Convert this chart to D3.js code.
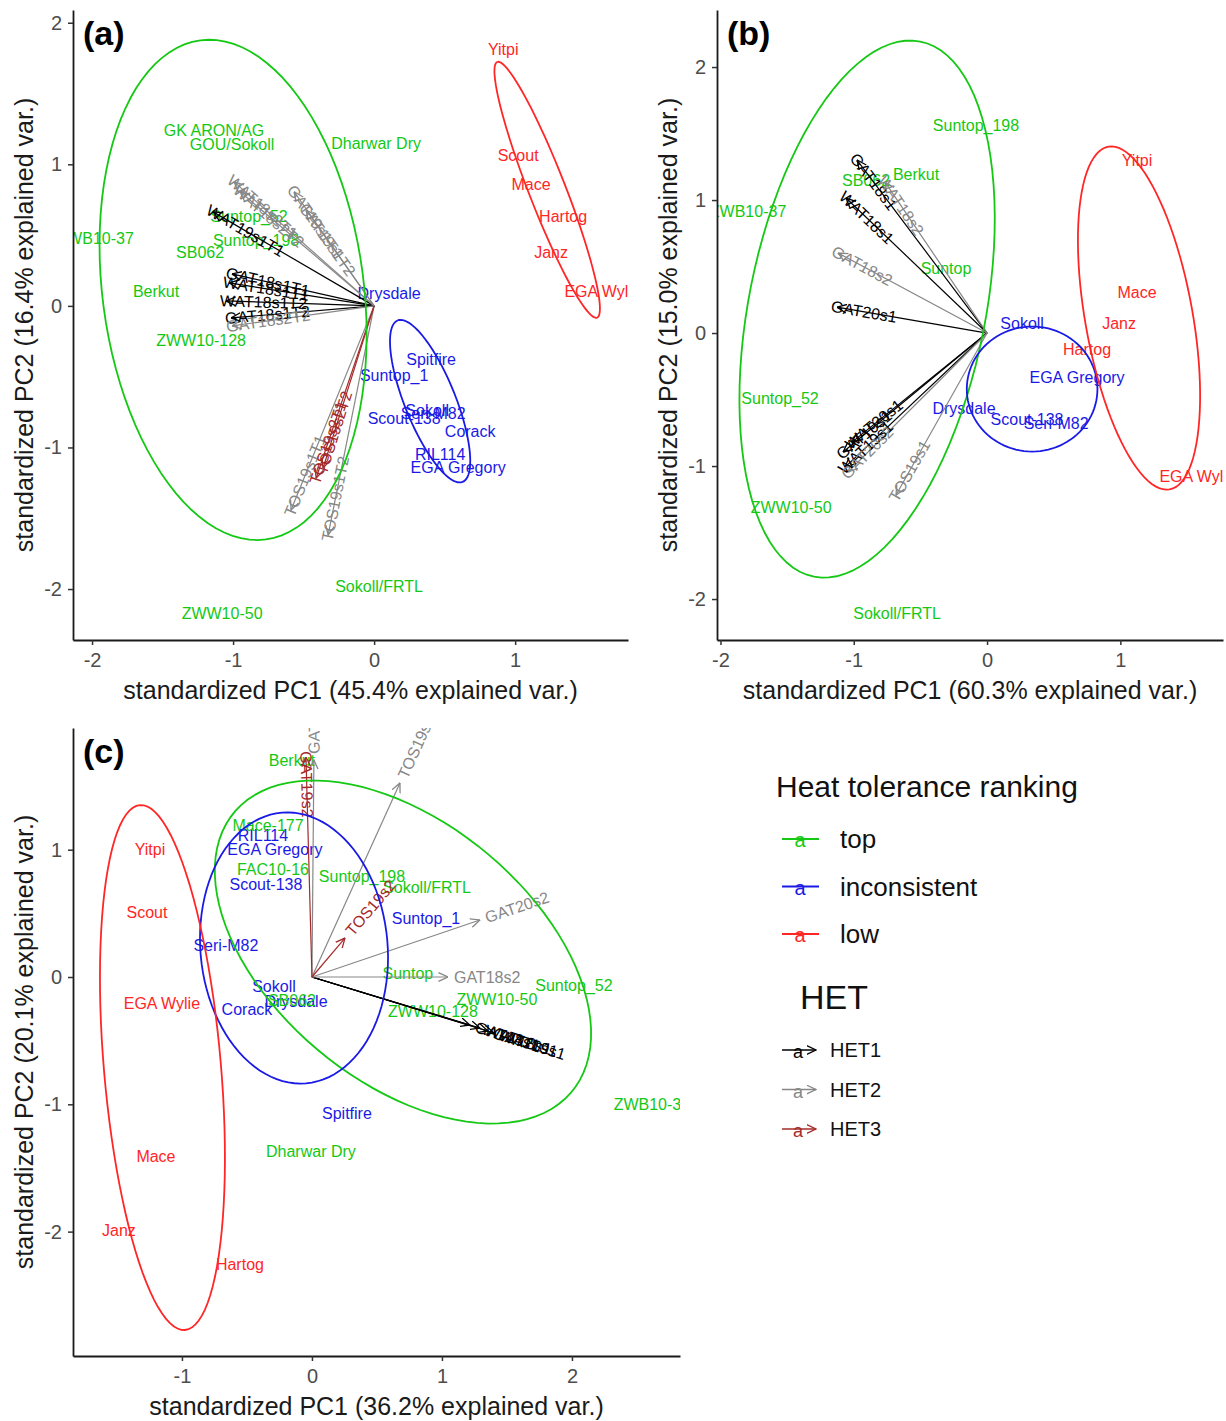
<!DOCTYPE html>
<html>
<head>
<meta charset="utf-8">
<script src="https://cdn.jsdelivr.net/npm/d3@7"></script>
<style>
  body { margin: 0; background: #fff; }
  text { font-family: "Liberation Sans", Arial, sans-serif; }
</style>
</head>
<body>
<svg id="fig" width="1226" height="1421"></svg>
<script>
// ---------------- data ----------------
// Genotype scores: [name, heat tolerance ranking, PC1, PC2]
const scoresA = [
  ["GK ARON/AG", "top", -1.135, 1.237],
  ["GOU/Sokoll", "top", -1.007, 1.138],
  ["Dharwar Dry", "top", 0.014, 1.145],
  ["ZWB10-37", "top", -1.975, 0.473],
  ["Suntop_52", "top", -0.887, 0.629],
  ["Suntop_198", "top", -0.837, 0.459],
  ["SB062", "top", -1.234, 0.375],
  ["Berkut", "top", -1.546, 0.099],
  ["ZWW10-128", "top", -1.227, -0.247],
  ["Sokoll/FRTL", "top", 0.035, -1.979],
  ["ZWW10-50", "top", -1.078, -2.17],
  ["Drysdale", "inconsistent", 0.106, 0.085],
  ["Spitfire", "inconsistent", 0.404, -0.382],
  ["Suntop_1", "inconsistent", 0.142, -0.495],
  ["Sokoll", "inconsistent", 0.376, -0.742],
  ["Scout-138", "inconsistent", 0.213, -0.792],
  ["Seri-M82", "inconsistent", 0.418, -0.763],
  ["Corack", "inconsistent", 0.681, -0.890],
  ["RIL114", "inconsistent", 0.468, -1.053],
  ["EGA Gregory", "inconsistent", 0.596, -1.145],
  ["Yitpi", "low", 0.915, 1.809],
  ["Scout", "low", 1.021, 1.060],
  ["Mace", "low", 1.113, 0.855],
  ["Hartog", "low", 1.340, 0.629],
  ["Janz", "low", 1.255, 0.375],
  ["EGA Wylie", "low", 1.62, 0.099]
];
// Trait loadings: [variable, HET group, PC1, PC2]
const loadingsA = [
  ["WAT19s1T1", "HET1", -1.142, 0.664],
  ["GAT18s1T1", "HET1", -1.007, 0.226],
  ["WAT18s1T1", "HET1", -1.028, 0.163],
  ["WAT18s1T2", "HET1", -1.050, 0.035],
  ["GAT18s1T2", "HET1", -1.014, -0.085],
  ["WAT18s2T1", "HET2", -0.993, 0.876],
  ["WAT18s2T2", "HET2", -0.950, 0.806],
  ["GAT19s1T1", "HET2", -0.567, 0.806],
  ["GAT19s1T2", "HET2", -0.482, 0.678],
  ["GAT18s2T2", "HET2", -1.007, -0.141],
  ["TOS19s1T1", "HET2", -0.589, -1.442],
  ["TOS19s1T2", "HET2", -0.326, -1.618],
  ["TOS19s2T1", "HET3", -0.411, -1.216],
  ["TOS19s2T2", "HET3", -0.362, -1.145]
];
// Group ellipses: [ranking, centre PC1, centre PC2, semi-major, semi-minor, angle (deg)]
const ellipsesA = [
  ["top", -1.0, 0.113, 1.778, 0.926, 97.5],
  ["inconsistent", 0.397, -0.673, 0.615, 0.18, 112],
  ["low", 1.227, 0.82, 0.97, 0.13, 111.4]
];
const varianceA = [45.4, 16.4];
const xTicksA = [-2, -1, 0, 1];
const yTicksA = [-2, -1, 0, 1, 2];

const scoresB = [
  ["Suntop_198", "top", -0.083, 1.564],
  ["Berkut", "top", -0.533, 1.195],
  ["SB062", "top", -0.908, 1.150],
  ["ZWB10-37", "top", -1.793, 0.917],
  ["Suntop", "top", -0.308, 0.489],
  ["Suntop_52", "top", -1.553, -0.489],
  ["ZWW10-50", "top", -1.470, -1.308],
  ["Sokoll/FRTL", "top", -0.675, -2.105],
  ["Sokoll", "inconsistent", 0.263, 0.075],
  ["EGA Gregory", "inconsistent", 0.675, -0.338],
  ["Drysdale", "inconsistent", -0.173, -0.564],
  ["Scout-138", "inconsistent", 0.300, -0.647],
  ["Seri-M82", "inconsistent", 0.518, -0.677],
  ["Yitpi", "low", 1.125, 1.301],
  ["Mace", "low", 1.125, 0.308],
  ["Janz", "low", 0.990, 0.075],
  ["Hartog", "low", 0.750, -0.120],
  ["EGA Wylie", "low", 1.579, -1.075]
];
const loadingsB = [
  ["GAT18s1", "HET1", -0.975, 1.301],
  ["WAT18s1", "HET1", -1.058, 1.015],
  ["GAT20s1", "HET1", -1.125, 0.195],
  ["WAT20s1", "HET1", -1.013, -0.820],
  ["GAT19s1", "HET1", -1.080, -0.895],
  ["WAT19s1", "HET1", -1.065, -1.008],
  ["WAT18s2", "HET2", -0.765, 1.135],
  ["GAT18s2", "HET2", -1.118, 0.602],
  ["GAT20s2", "HET2", -1.043, -1.045],
  ["TOS19s1", "HET2", -0.683, -1.218]
];
const ellipsesB = [
  ["top", -0.9, 0.18, 2.051, 0.888, 78.8],
  ["inconsistent", 0.338, -0.421, 0.49, 0.47, 0],
  ["low", 1.14, 0.113, 1.309, 0.403, 100.1]
];
const varianceB = [60.3, 15.0];
const xTicksB = [-2, -1, 0, 1];
const yTicksB = [-2, -1, 0, 1, 2];

const scoresC = [
  ["Yitpi", "low", -1.246, 1.005],
  ["Scout", "low", -1.269, 0.503],
  ["EGA Wylie", "low", -1.154, -0.212],
  ["Mace", "low", -1.2, -1.406],
  ["Janz", "low", -1.485, -1.995],
  ["Hartog", "low", -0.554, -2.255],
  ["RIL114", "inconsistent", -0.377, 1.108],
  ["EGA Gregory", "inconsistent", -0.285, 0.998],
  ["Scout-138", "inconsistent", -0.354, 0.723],
  ["Seri-M82", "inconsistent", -0.662, 0.251],
  ["Sokoll", "inconsistent", -0.292, -0.071],
  ["Corack", "inconsistent", -0.5, -0.259],
  ["Drysdale", "inconsistent", -0.123, -0.196],
  ["Suntop_1", "inconsistent", 0.877, 0.463],
  ["Spitfire", "inconsistent", 0.269, -1.076],
  ["Berkut", "top", -0.154, 1.697],
  ["Mace-177", "top", -0.338, 1.194],
  ["FAC10-16", "top", -0.3, 0.841],
  ["SB062", "top", -0.154, -0.181],
  ["Suntop_198", "top", 0.385, 0.786],
  ["Sokoll/FRTL", "top", 0.885, 0.707],
  ["Suntop", "top", 0.738, 0.031],
  ["Suntop_52", "top", 2.015, -0.063],
  ["ZWW10-50", "top", 1.423, -0.173],
  ["ZWW10-128", "top", 0.931, -0.267],
  ["Dharwar Dry", "top", -0.008, -1.367],
  ["ZWB10-37", "top", 2.615, -0.998]
];
const loadingsC = [
  ["GAT18s1", "HET1", 1.215, -0.377],
  ["WAT18s1", "HET1", 1.292, -0.401],
  ["GAT20s1", "HET1", 1.354, -0.424],
  ["WAT19s1", "HET1", 1.40, -0.44],
  ["GAT20s2", "HET2", 1.292, 0.448],
  ["GAT18s2", "HET2", 1.046, 0.0],
  ["TOS19s1", "HET2", 0.677, 1.524],
  ["GAT19s1", "HET2", 0.015, 1.705],
  ["GAT19s2", "HET3", -0.046, 1.728],
  ["TOS19s2", "HET3", 0.254, 0.306]
];
const ellipsesC = [
  ["top", 0.70, 0.196, 1.70, 1.01, -40.7],
  ["inconsistent", -0.138, 0.228, 1.067, 0.72, 95],
  ["low", -1.15, -0.711, 2.069, 0.45, 94.8]
];
const varianceC = [36.2, 20.1];
const xTicksC = [-1, 0, 1, 2];
const yTicksC = [-2, -1, 0, 1];

const rankings = ["top", "inconsistent", "low"];
const hetGroups = ["HET1", "HET2", "HET3"];

// ---------------- styling ----------------
const rankColor = d3.scaleOrdinal().domain(rankings).range(["#14c814", "#1a1ae6", "#ff2626"]);
const hetColor = d3.scaleOrdinal().domain(hetGroups).range(["#000000", "#878787", "#a52a2a"]);

const svg = d3.select("#fig");
const defs = svg.append("defs");

// open chevron arrowheads, one per HET colour
hetGroups.forEach(h => {
  defs.append("marker")
    .attr("id", "head-" + h)
    .attr("viewBox", "0 0 10 10")
    .attr("refX", 9.5).attr("refY", 5)
    .attr("markerWidth", 10).attr("markerHeight", 10)
    .attr("markerUnits", "userSpaceOnUse")
    .attr("orient", "auto")
    .append("path")
    .attr("d", "M0,0.6 L9.5,5 L0,9.4")
    .attr("fill", "none")
    .attr("stroke", hetColor(h))
    .attr("stroke-width", 1.3);
});

const panels = [
  { tag: "(a)", scores: scoresA, loadings: loadingsA, ellipses: ellipsesA, variance: varianceA,
    xTicks: xTicksA, yTicks: yTicksA, xDomain: [-2.135, 1.80], yDomain: [-2.36, 2.09],
    box: { l: 73, r: 628, t: 10, b: 640 } },
  { tag: "(b)", scores: scoresB, loadings: loadingsB, ellipses: ellipsesB, variance: varianceB,
    xTicks: xTicksB, yTicks: yTicksB, xDomain: [-2.026, 1.77], yDomain: [-2.308, 2.429],
    box: { l: 717, r: 1223, t: 10, b: 640 } },
  { tag: "(c)", scores: scoresC, loadings: loadingsC, ellipses: ellipsesC, variance: varianceC,
    xTicks: xTicksC, yTicks: yTicksC, xDomain: [-1.838, 2.831], yDomain: [-2.977, 1.956],
    box: { l: 73, r: 680, t: 728, b: 1356 } }
];

function ellipsePoints(e) {
  const [, cx, cy, a, b, deg] = e;
  const th = deg * Math.PI / 180;
  return d3.range(0, 101).map(i => {
    const t = 2 * Math.PI * i / 100;
    return [cx + a * Math.cos(t) * Math.cos(th) - b * Math.sin(t) * Math.sin(th),
            cy + a * Math.cos(t) * Math.sin(th) + b * Math.sin(t) * Math.cos(th)];
  });
}

panels.forEach((p, i) => {
  const { l, r, t, b } = p.box;
  const x = d3.scaleLinear().domain(p.xDomain).range([l, r]);
  const y = d3.scaleLinear().domain(p.yDomain).range([b, t]);
  const g = svg.append("g");

  defs.append("clipPath").attr("id", "clip" + i)
    .append("rect").attr("x", l).attr("y", t).attr("width", r - l).attr("height", b - t);
  const plot = g.append("g").attr("clip-path", `url(#clip${i})`);

  // genotype labels
  plot.append("g").selectAll("text").data(p.scores).join("text")
    .attr("x", d => x(d[2])).attr("y", d => y(d[3]))
    .attr("text-anchor", "middle").attr("dominant-baseline", "central")
    .attr("font-size", 16).attr("fill", d => rankColor(d[1]))
    .text(d => d[0]);

  // loading arrows
  plot.append("g").selectAll("line").data(p.loadings).join("line")
    .attr("x1", x(0)).attr("y1", y(0))
    .attr("x2", d => x(d[2])).attr("y2", d => y(d[3]))
    .attr("stroke", d => hetColor(d[1])).attr("stroke-width", 1.2)
    .attr("marker-end", d => `url(#head-${d[1]})`);

  // variable names along the arrows
  plot.append("g").selectAll("text").data(p.loadings).join("text")
    .attr("transform", d => {
      const dx = x(d[2]) - x(0), dy = y(d[3]) - y(0);
      const ang = dx === 0 ? 90 : Math.atan(dy / dx) * 180 / Math.PI;
      return `translate(${x(d[2])},${y(d[3])}) rotate(${ang})`;
    })
    .attr("dx", d => (d[2] > 0 ? 6 : -6))
    .attr("text-anchor", "start").attr("dominant-baseline", "central")
    .attr("font-size", 16).attr("fill", d => hetColor(d[1]))
    .text(d => d[0]);

  // group ellipses
  const line = d3.line().x(d => x(d[0])).y(d => y(d[1]));
  plot.append("g").selectAll("path").data(p.ellipses).join("path")
    .attr("d", e => line(ellipsePoints(e)))
    .attr("fill", "none").attr("stroke", e => rankColor(e[0])).attr("stroke-width", 1.8);

  // axes
  const ax = g.append("g").attr("transform", `translate(0,${b})`)
    .call(d3.axisBottom(x).tickValues(p.xTicks).tickSize(5).tickSizeOuter(0).tickPadding(8)
      .tickFormat(d3.format("d")));
  const ay = g.append("g").attr("transform", `translate(${l},0)`)
    .call(d3.axisLeft(y).tickValues(p.yTicks).tickSize(5).tickSizeOuter(0).tickPadding(6)
      .tickFormat(d3.format("d")));
  [ax, ay].forEach(a => {
    a.select(".domain").attr("stroke", "#1a1a1a").attr("stroke-width", 1.8);
    a.selectAll(".tick line").attr("stroke", "#333").attr("stroke-width", 1.5);
    a.selectAll(".tick text").attr("font-size", 20).attr("fill", "#4d4d4d")
      .attr("font-family", "'Liberation Sans', Arial, sans-serif");
  });
  // plain hyphen for negative tick labels
  g.selectAll(".tick text").text(function () { return this.textContent.replace("\u2212", "-"); });

  // axis titles
  g.append("text")
    .attr("x", (l + r) / 2).attr("y", b + 59)
    .attr("text-anchor", "middle").attr("font-size", 25).attr("fill", "#1a1a1a")
    .text(`standardized PC1 (${p.variance[0].toFixed(1)}% explained var.)`);
  g.append("text")
    .attr("transform", `translate(${l - 40},${(t + b) / 2}) rotate(-90)`)
    .attr("text-anchor", "middle").attr("font-size", 25).attr("fill", "#1a1a1a")
    .text(`standardized PC2 (${p.variance[1].toFixed(1)}% explained var.)`);

  // panel tag
  g.append("text").attr("x", l + 10).attr("y", t + 35)
    .attr("font-size", 34).attr("font-weight", "bold").attr("fill", "#000")
    .text(p.tag);
});

// ---------------- legends ----------------
const leg = svg.append("g");
leg.append("text").attr("x", 776).attr("y", 797).attr("font-size", 30).attr("fill", "#111")
  .text("Heat tolerance ranking");
rankings.forEach((k, j) => {
  const cy = 839 + j * 47.5;
  leg.append("line").attr("x1", 782).attr("x2", 819).attr("y1", cy).attr("y2", cy)
    .attr("stroke", rankColor(k)).attr("stroke-width", 1.8);
  leg.append("text").attr("x", 800).attr("y", cy + 8).attr("text-anchor", "middle")
    .attr("font-size", 20).attr("fill", rankColor(k)).text("a");
  leg.append("text").attr("x", 840).attr("y", cy).attr("dominant-baseline", "central")
    .attr("font-size", 26).attr("fill", "#111").text(k);
});
leg.append("text").attr("x", 800).attr("y", 1009).attr("font-size", 34).attr("fill", "#111")
  .text("HET");
hetGroups.forEach((h, j) => {
  const cy = 1050 + j * 39.5;
  leg.append("line").attr("x1", 782).attr("x2", 816).attr("y1", cy).attr("y2", cy)
    .attr("stroke", hetColor(h)).attr("stroke-width", 1.3)
    .attr("marker-end", `url(#head-${h})`);
  leg.append("text").attr("x", 798).attr("y", cy + 8).attr("text-anchor", "middle")
    .attr("font-size", 18).attr("fill", hetColor(h)).text("a");
  leg.append("text").attr("x", 830).attr("y", cy).attr("dominant-baseline", "central")
    .attr("font-size", 20).attr("fill", "#111").text(h);
});
</script>
</body>
</html>
